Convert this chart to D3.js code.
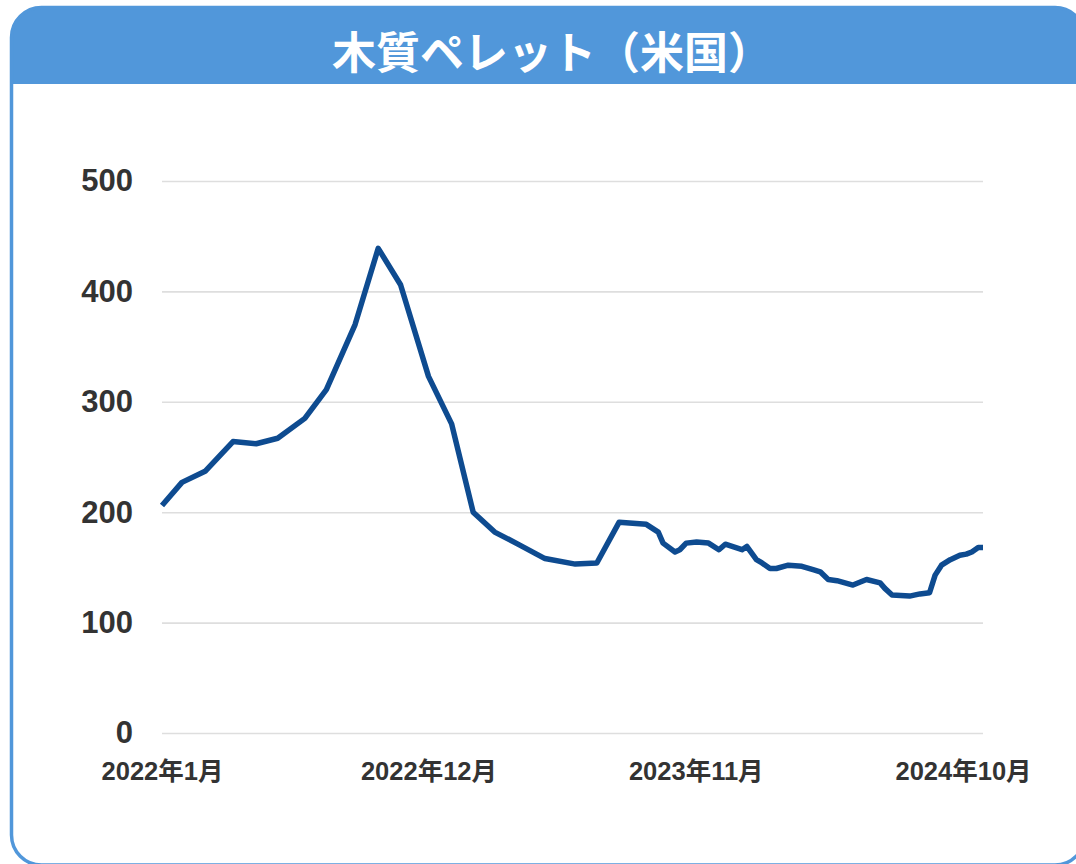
<!DOCTYPE html>
<html>
<head>
<meta charset="utf-8">
<script src="https://cdn.jsdelivr.net/npm/d3@7"></script>
<style>
  html, body { margin: 0; padding: 0; background: #fff; }
  svg { display: block; }
  .axis text { font-family: "Liberation Sans", Arial, "Noto Sans CJK JP", sans-serif; font-weight: bold; fill: #333; }
</style>
</head>
<body>
<svg id="chart" width="1076" height="864"></svg>
<script>
// chart text
const title = "木質ペレット（米国）"

const dates = [
  "2022-01-01", "2022-01-26", "2022-02-24", "2022-03-31", "2022-04-29", "2022-05-26",
  "2022-06-29", "2022-07-26", "2022-08-31", "2022-09-29", "2022-10-27", "2022-12-01",
  "2022-12-30", "2023-01-26", "2023-02-22", "2023-03-26", "2023-04-26", "2023-06-03",
  "2023-06-30", "2023-07-28", "2023-08-31", "2023-09-15", "2023-09-21", "2023-10-06",
  "2023-10-12", "2023-10-20", "2023-11-02", "2023-11-17", "2023-11-30", "2023-12-08",
  "2023-12-29", "2024-01-04", "2024-01-16", "2024-01-23", "2024-02-02", "2024-02-10",
  "2024-02-25", "2024-03-13", "2024-03-27", "2024-04-05", "2024-04-15", "2024-04-26",
  "2024-05-16", "2024-06-02", "2024-06-19", "2024-06-25", "2024-07-04", "2024-07-26",
  "2024-08-08", "2024-08-20", "2024-08-27", "2024-09-04", "2024-09-15", "2024-09-27",
  "2024-10-05", "2024-10-12", "2024-10-20", "2024-10-26"
]
const prices = [
  206, 227, 237, 264, 262, 267,
  285, 311, 370, 439, 406, 323,
  280, 200, 182, 170, 158, 153,
  154, 191, 189, 182, 172, 164,
  166, 172, 173, 172, 166, 171,
  166, 169, 157, 154, 149, 149,
  152, 151, 148, 146, 139, 138,
  134, 139, 136, 131, 125, 124,
  126, 127, 143, 152, 157, 161,
  162, 164, 168, 168
]

// axis ticks
const yTicks = [0, 100, 200, 300, 400, 500]
const xTicks = ["2022-01-01", "2022-12-01", "2023-11-01", "2024-10-01"]

const parse = d3.timeParse("%Y-%m-%d")
const data = dates.map((d, i) => ({ date: parse(d), value: prices[i] }))

const svg = d3.select("#chart")
const blue = "#5197da"

// card outline and header band
const card = { left: 11.5, top: 7.5, right: 1085, bottom: 865, r: 30, head: 84 }
svg.append("path")
  .attr("d", `M${card.left},${card.head} V${card.top + card.r} A${card.r},${card.r} 0 0 1 ${card.left + card.r},${card.top}
    H${card.right - card.r} A${card.r},${card.r} 0 0 1 ${card.right},${card.top + card.r} V${card.head} Z`)
  .attr("fill", blue)
svg.append("rect")
  .attr("x", card.left).attr("y", card.top)
  .attr("width", card.right - card.left).attr("height", card.bottom - card.top)
  .attr("rx", card.r)
  .attr("fill", "none")
  .attr("stroke", blue)
  .attr("stroke-width", 3.5)

svg.append("text")
  .attr("x", 552).attr("y", 50)
  .attr("text-anchor", "middle")
  .attr("dominant-baseline", "central")
  .attr("fill", "#fff")
  .style("font-family", "'Noto Sans CJK JP', sans-serif")
  .style("font-weight", "bold")
  .style("font-size", "44px")
  .text(title)

// plot area
const plot = { left: 162, right: 983, top: 181, bottom: 733 }

const x = d3.scaleTime()
  .domain(d3.extent(data, d => d.date))
  .range([plot.left, plot.right])
const y = d3.scaleLinear()
  .domain([0, 500])
  .range([plot.bottom, plot.top])

const yAxis = svg.append("g")
  .attr("class", "axis")
  .attr("transform", `translate(${plot.left},0)`)
  .call(d3.axisLeft(y)
    .tickValues(yTicks)
    .tickSize(-(plot.right - plot.left))
    .tickPadding(29))
yAxis.select(".domain").remove()
yAxis.selectAll(".tick line").attr("stroke", "#dedede").attr("stroke-width", 1.6)
yAxis.selectAll(".tick text").style("font-size", "31px")

const xAxis = svg.append("g")
  .attr("class", "axis")
  .attr("transform", `translate(0,${plot.bottom})`)
  .call(d3.axisBottom(x)
    .tickValues(xTicks.map(parse))
    .tickFormat(d3.timeFormat("%Y年%-m月"))
    .tickSize(0)
    .tickPadding(29))
xAxis.select(".domain").remove()
xAxis.selectAll(".tick text").style("font-size", "25.5px")

const line = d3.line()
  .x(d => x(d.date))
  .y(d => y(d.value))

svg.append("path")
  .datum(data)
  .attr("fill", "none")
  .attr("stroke", "#0e4b90")
  .attr("stroke-width", 5.5)
  .attr("stroke-linejoin", "round")
  .attr("d", line)
</script>
</body>
</html>
